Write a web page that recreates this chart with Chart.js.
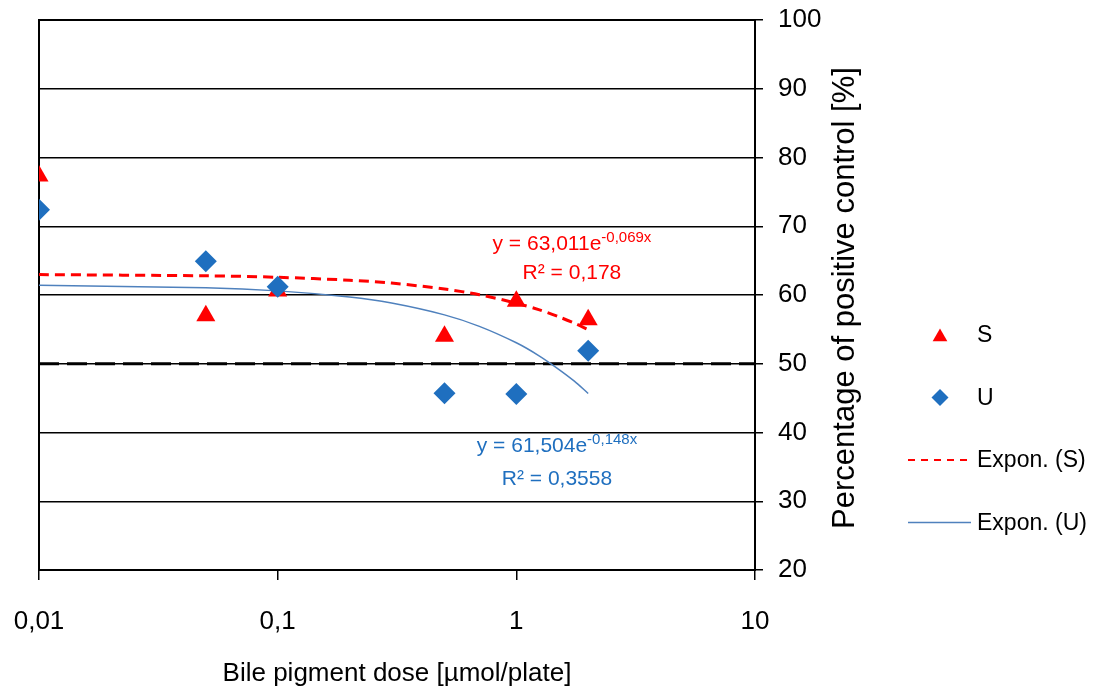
<!DOCTYPE html>
<html>
<head>
<meta charset="utf-8">
<script src="https://cdn.jsdelivr.net/npm/chart.js@4.4.1/dist/chart.umd.min.js"></script>
<style>
  html, body { margin: 0; padding: 0; background: #fff; }
  #wrap { width: 1105px; height: 691px; }
</style>
</head>
<body>
<div id="wrap"><canvas id="chart"></canvas></div>
<script>
// Doses in µmol/plate
const doses = [0.01, 0.05, 0.1, 0.5, 1, 2];
// Percentage of positive control
const valuesS = [77.3, 57.0, 60.6, 54.0, 59.1, 56.4];
const valuesU = [72.4, 64.9, 61.2, 45.7, 45.6, 51.9];

// Exponential trend lines
const trendDoses = [0.01, 0.05, 0.1, 0.2, 0.3, 0.5, 0.7, 1, 1.25, 1.5, 1.75, 2];
const trendS = [62.97, 62.79, 62.58, 62.15, 61.73, 60.87, 60.04, 58.81, 57.83, 56.85, 55.90, 54.96];
const trendU = [61.41, 61.05, 60.60, 59.71, 58.83, 57.11, 55.44, 53.05, 51.12, 49.23, 47.47, 45.68];

// 50 % reference line
const refDoses = [0.01, 10];
const refValues = [50, 50];

const xTicks = [0.01, 0.1, 1, 10];

const eqS = ['y = 63,011e', '-0,069x', 'R² = 0,178'];
const eqU = ['y = 61,504e', '-0,148x', 'R² = 0,3558'];

const RED = '#ff0000';
const BLUE = '#1f6fbf';
const BLUE_LINE = '#4f81bd';
const SANS = '"Liberation Sans", Arial, sans-serif';

const pts = (xs, ys) => xs.map((x, i) => ({ x: x, y: ys[i] }));

// plot frame (drawn under the markers)
const framePlugin = {
  id: 'frame',
  beforeDatasetsDraw(chart) {
    const { ctx, chartArea: a } = chart;
    ctx.save();
    ctx.strokeStyle = '#000';
    ctx.lineWidth = 2;
    ctx.strokeRect(a.left, a.top, a.right - a.left, a.bottom - a.top);
    ctx.restore();
  }
};

function drawMarker(ctx, style, x, y, r, color) {
  ctx.fillStyle = color;
  ctx.beginPath();
  if (style === 'triangle') {
    ctx.moveTo(x, y - r);
    ctx.lineTo(x + r * 0.866, y + r * 0.5);
    ctx.lineTo(x - r * 0.866, y + r * 0.5);
  } else {
    ctx.moveTo(x, y - r);
    ctx.lineTo(x + r, y);
    ctx.lineTo(x, y + r);
    ctx.lineTo(x - r, y);
  }
  ctx.closePath();
  ctx.fill();
}

// equations, y title and legend
const textPlugin = {
  id: 'texts',
  afterDraw(chart) {
    const { ctx, chartArea: a, scales } = chart;
    const xs = scales.x, ys = scales.y;
    ctx.save();

    function equation(eq, color, xv, y1, y2) {
      const cx = xs.getPixelForValue(xv);
      ctx.fillStyle = color;
      ctx.textBaseline = 'alphabetic';
      ctx.font = '21px ' + SANS;
      const w1 = ctx.measureText(eq[0]).width;
      ctx.font = '15px ' + SANS;
      const w2 = ctx.measureText(eq[1]).width;
      const x0 = cx - (w1 + w2) / 2;
      const b1 = ys.getPixelForValue(y1);
      ctx.textAlign = 'left';
      ctx.font = '21px ' + SANS;
      ctx.fillText(eq[0], x0, b1);
      ctx.font = '15px ' + SANS;
      ctx.fillText(eq[1], x0 + w1, b1 - 8);
      ctx.font = '21px ' + SANS;
      ctx.textAlign = 'center';
      ctx.fillText(eq[2], cx, ys.getPixelForValue(y2));
    }
    equation(eqS, RED, 1.71, 66.5, 62.4);
    equation(eqU, BLUE, 1.48, 37.1, 32.3);

    // y axis title, reading upwards
    ctx.save();
    ctx.translate(a.right + 90, (a.top + a.bottom) / 2 + 3);
    ctx.rotate(-Math.PI / 2);
    ctx.fillStyle = '#000';
    ctx.font = '31px ' + SANS;
    ctx.textAlign = 'center';
    ctx.textBaseline = 'middle';
    ctx.fillText('Percentage of positive control [%]', 0, 0);
    ctx.restore();

    // legend
    const lx = a.right + 153;
    const tx = lx + 69;
    let ly = 335;
    ctx.font = '23px ' + SANS;
    ctx.textAlign = 'left';
    ctx.textBaseline = 'middle';
    chart.data.datasets.forEach(ds => {
      if (!ds.inLegend) return;
      if (ds.showLine) {
        ctx.strokeStyle = ds.borderColor;
        ctx.lineWidth = ds.borderDash ? 2 : 1.5;
        ctx.setLineDash(ds.borderDash ? [7, 6] : []);
        ctx.beginPath();
        ctx.moveTo(lx, ly);
        ctx.lineTo(lx + 63, ly);
        ctx.stroke();
        ctx.setLineDash([]);
      } else {
        drawMarker(ctx, ds.pointStyle, lx + 32, ly + (ds.pointStyle === 'triangle' ? 2 : 0), 8.5, ds.backgroundColor);
      }
      ctx.fillStyle = '#000';
      ctx.fillText(ds.label, tx, ly + 1);
      ly += 62.5;
    });
    ctx.restore();
  }
};

new Chart(document.getElementById('chart'), {
  type: 'scatter',
  data: {
    datasets: [
      {
        label: 'S', inLegend: true, order: 1,
        data: pts(doses, valuesS),
        pointStyle: 'triangle', pointRadius: 11, pointHoverRadius: 11,
        backgroundColor: RED, borderColor: RED, borderWidth: 0
      },
      {
        label: 'U', inLegend: true, order: 0,
        data: pts(doses, valuesU),
        pointStyle: 'rectRot', pointRadius: 11, pointHoverRadius: 11,
        backgroundColor: BLUE, borderColor: BLUE, borderWidth: 0
      },
      {
        label: 'Expon. (S)', inLegend: true, order: 2,
        data: pts(trendDoses, trendS), showLine: true,
        borderColor: RED, borderWidth: 3, borderDash: [10, 6],
        pointRadius: 0, tension: 0.3
      },
      {
        label: 'Expon. (U)', inLegend: true, order: 3,
        data: pts(trendDoses, trendU), showLine: true,
        borderColor: BLUE_LINE, borderWidth: 1.5,
        pointRadius: 0, tension: 0.3
      },
      {
        label: '50 %', inLegend: false, order: 4,
        data: pts(refDoses, refValues), showLine: true,
        borderColor: '#000', borderWidth: 3, borderDash: [20, 8],
        pointRadius: 0
      }
    ]
  },
  options: {
    responsive: true,
    maintainAspectRatio: false,
    animation: false,
    layout: { padding: { left: 39, top: 20, right: 245, bottom: 0 } },
    plugins: {
      legend: { display: false },
      tooltip: { enabled: false }
    },
    scales: {
      x: {
        type: 'logarithmic',
        position: 'bottom',
        min: 0.01,
        max: 10,
        afterBuildTicks: s => { s.ticks = xTicks.map(v => ({ value: v })); },
        afterFit: s => { s.height = 121; s.paddingLeft = 0; s.paddingRight = 0; },
        ticks: {
          callback: v => String(v).replace('.', ','),
          font: { family: SANS, size: 26 },
          color: '#000',
          padding: 26,
          maxRotation: 0,
          autoSkip: false
        },
        grid: { drawOnChartArea: false, drawTicks: true, tickLength: 10, color: '#000', lineWidth: 1.5 },
        border: { display: true, color: '#000', width: 2 },
        title: {
          display: true,
          text: 'Bile pigment dose [µmol/plate]',
          font: { family: SANS, size: 26 },
          color: '#000',
          padding: { top: 0, bottom: 2 }
        }
      },
      y: {
        position: 'right',
        min: 20,
        max: 100,
        afterFit: s => { s.width = 105; s.paddingTop = 0; s.paddingBottom = 0; },
        ticks: {
          stepSize: 10,
          font: { family: SANS, size: 26 },
          color: '#000',
          padding: 15
        },
        grid: { color: '#000', lineWidth: 1.5, tickLength: 8 },
        border: { color: '#000', width: 2 }
      }
    }
  },
  plugins: [framePlugin, textPlugin]
});
</script>
</body>
</html>
